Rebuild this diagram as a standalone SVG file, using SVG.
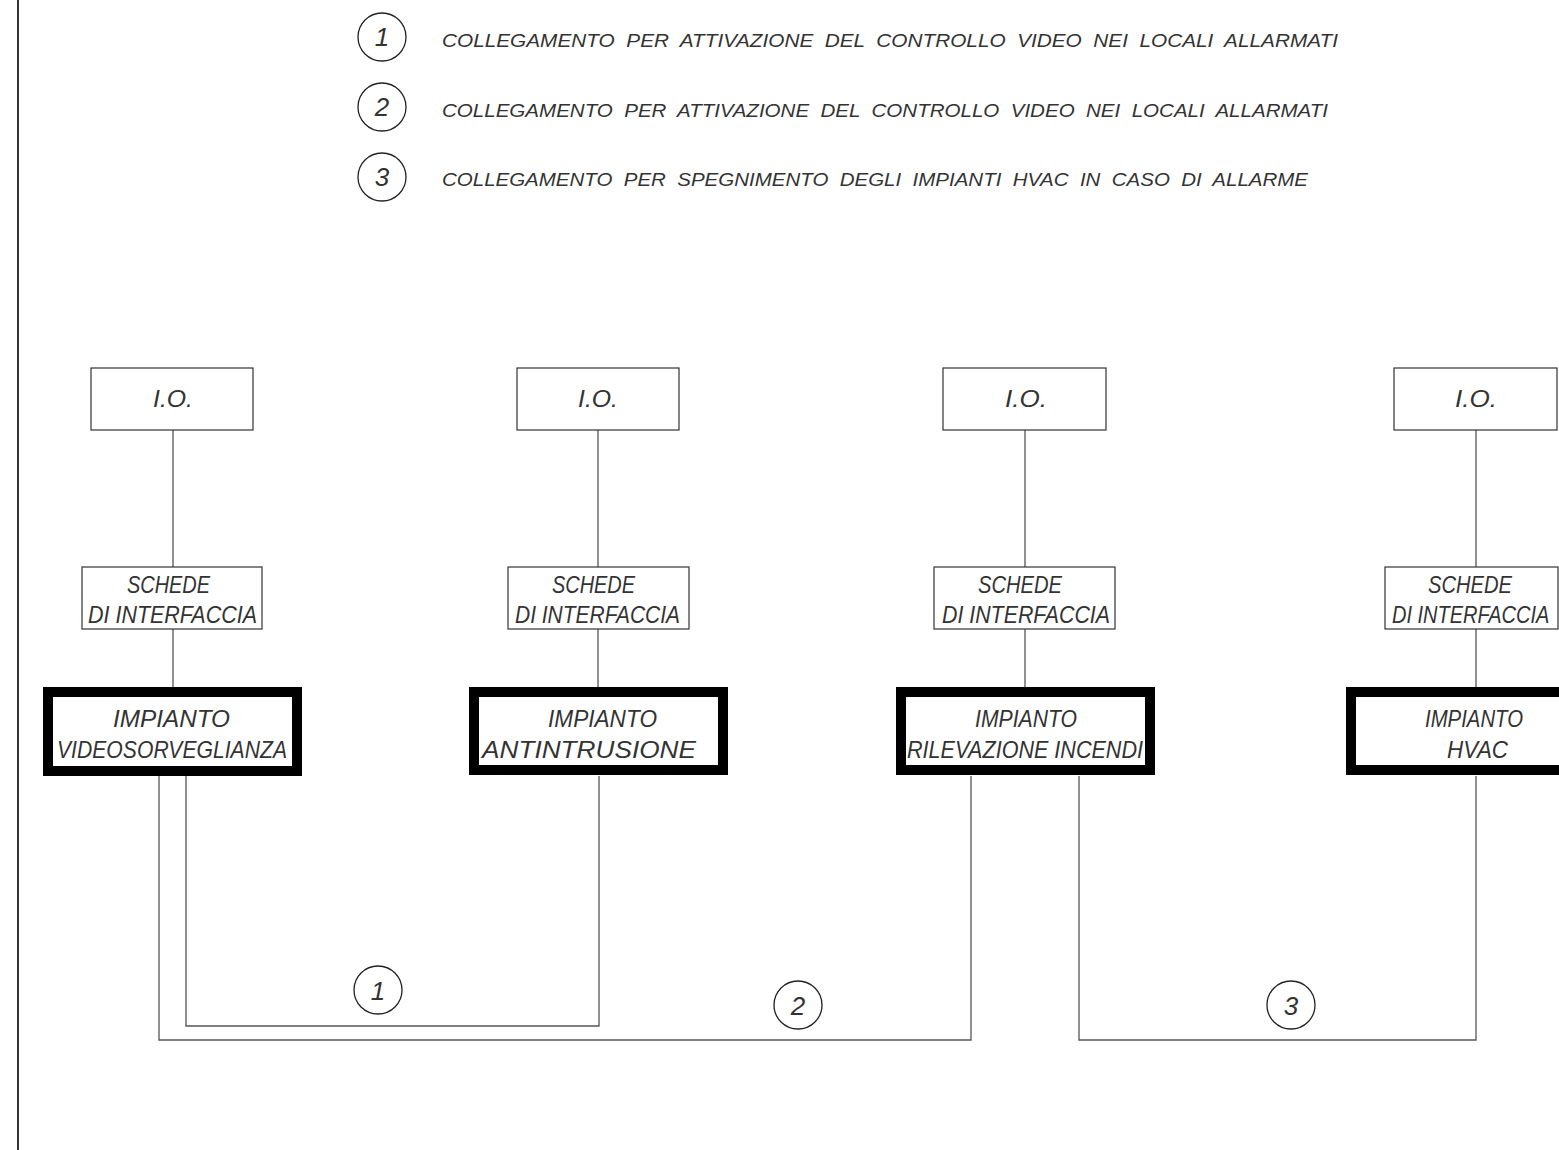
<svg xmlns="http://www.w3.org/2000/svg" width="1559" height="1150" viewBox="0 0 1559 1150">
<style>
.t{font-family:"Liberation Sans",Arial,sans-serif;font-style:italic;fill:#333;}
.lg{font-size:19px;white-space:pre;}
.bx{font-size:24px;}
.num{font-size:26px;text-anchor:middle;}
.thin{fill:#fff;stroke:#333;stroke-width:1.2;}
.thick{fill:#fff;stroke:#000;stroke-width:10;}
.wire{fill:none;stroke:#555;stroke-width:1.3;}
.circ{fill:#fff;stroke:#222;stroke-width:1.3;}
</style>
<rect width="1559" height="1150" fill="#fff"/>
<line x1="18" y1="0" x2="18" y2="1150" stroke="#000" stroke-width="1.6"/>

<g id="legend">
<circle class="circ" cx="382" cy="37" r="24"/>
<text class="t num" x="382" y="46">1</text>
<text class="t lg" x="442" y="47" textLength="896" lengthAdjust="spacingAndGlyphs" xml:space="preserve">COLLEGAMENTO  PER  ATTIVAZIONE  DEL  CONTROLLO  VIDEO  NEI  LOCALI  ALLARMATI</text>
<circle class="circ" cx="382" cy="107" r="24"/>
<text class="t num" x="382" y="116">2</text>
<text class="t lg" x="442" y="117" textLength="886" lengthAdjust="spacingAndGlyphs" xml:space="preserve">COLLEGAMENTO  PER  ATTIVAZIONE  DEL  CONTROLLO  VIDEO  NEI  LOCALI  ALLARMATI</text>
<circle class="circ" cx="382" cy="177" r="24"/>
<text class="t num" x="382" y="186">3</text>
<text class="t lg" x="442" y="186" textLength="866" lengthAdjust="spacingAndGlyphs" xml:space="preserve">COLLEGAMENTO  PER  SPEGNIMENTO  DEGLI  IMPIANTI  HVAC  IN  CASO  DI  ALLARME</text>
</g>

<g id="connectors">
<line class="wire" x1="173" y1="430" x2="173" y2="567"/>
<line class="wire" x1="173" y1="629" x2="173" y2="687"/>
<line class="wire" x1="598" y1="430" x2="598" y2="567"/>
<line class="wire" x1="598" y1="629" x2="598" y2="687"/>
<line class="wire" x1="1025" y1="430" x2="1025" y2="567"/>
<line class="wire" x1="1025" y1="629" x2="1025" y2="687"/>
<line class="wire" x1="1476" y1="430" x2="1476" y2="567"/>
<line class="wire" x1="1476" y1="629" x2="1476" y2="687"/>
<polyline class="wire" points="186,776 186,1026 599,1026 599,776"/>
<polyline class="wire" points="159,776 159,1040 971,1040 971,776"/>
<polyline class="wire" points="1079,776 1079,1040 1476,1040 1476,776"/>
<g id="link1"><circle class="circ" cx="378" cy="990" r="24"/><text class="t num" x="378" y="1000">1</text></g>
<g id="link2"><circle class="circ" cx="798" cy="1005" r="24"/><text class="t num" x="798" y="1015">2</text></g>
<g id="link3"><circle class="circ" cx="1291" cy="1005" r="24"/><text class="t num" x="1291" y="1015">3</text></g>
</g>

<g id="io1"><rect class="thin" x="91" y="368" width="162" height="62"/><text class="t bx" x="153" y="407" textLength="40" lengthAdjust="spacingAndGlyphs">I.O.</text></g>
<g id="io2"><rect class="thin" x="517" y="368" width="162" height="62"/><text class="t bx" x="578" y="407" textLength="40" lengthAdjust="spacingAndGlyphs">I.O.</text></g>
<g id="io3"><rect class="thin" x="943" y="368" width="163" height="62"/><text class="t bx" x="1005" y="407" textLength="42" lengthAdjust="spacingAndGlyphs">I.O.</text></g>
<g id="io4"><rect class="thin" x="1394" y="368" width="163" height="62"/><text class="t bx" x="1455" y="407" textLength="42" lengthAdjust="spacingAndGlyphs">I.O.</text></g>

<g id="schede1"><rect class="thin" x="82" y="567" width="180" height="62"/>
<text class="t bx" x="127" y="593" textLength="83" lengthAdjust="spacingAndGlyphs">SCHEDE</text>
<text class="t bx" x="88" y="623" textLength="169" lengthAdjust="spacingAndGlyphs">DI INTERFACCIA</text></g>
<g id="schede2"><rect class="thin" x="508" y="567" width="181" height="62"/>
<text class="t bx" x="552" y="593" textLength="83" lengthAdjust="spacingAndGlyphs">SCHEDE</text>
<text class="t bx" x="515" y="623" textLength="165" lengthAdjust="spacingAndGlyphs">DI INTERFACCIA</text></g>
<g id="schede3"><rect class="thin" x="934" y="567" width="181" height="62"/>
<text class="t bx" x="978" y="593" textLength="84" lengthAdjust="spacingAndGlyphs">SCHEDE</text>
<text class="t bx" x="942" y="623" textLength="168" lengthAdjust="spacingAndGlyphs">DI INTERFACCIA</text></g>
<g id="schede4"><rect class="thin" x="1385" y="567" width="173" height="62"/>
<text class="t" style="font-size:20px" transform="translate(1392,623) scale(1,1.2)" x="0" y="0">DI INTERFACCIA</text>
<text class="t bx" x="1428" y="593" textLength="84" lengthAdjust="spacingAndGlyphs">SCHEDE</text></g>

<g id="impianto1"><rect class="thick" x="48" y="692" width="249" height="79"/>
<text class="t bx" x="113" y="727" textLength="117" lengthAdjust="spacingAndGlyphs">IMPIANTO</text>
<text class="t bx" x="57" y="758" textLength="230" lengthAdjust="spacingAndGlyphs">VIDEOSORVEGLIANZA</text></g>
<g id="impianto2"><rect class="thick" x="474" y="692" width="249" height="78"/>
<text class="t bx" x="548" y="727" textLength="109" lengthAdjust="spacingAndGlyphs">IMPIANTO</text>
<text class="t bx" x="482" y="758" textLength="214" lengthAdjust="spacingAndGlyphs">ANTINTRUSIONE</text></g>
<g id="impianto3"><rect class="thick" x="901" y="692" width="249" height="78"/>
<text class="t bx" x="975" y="727" textLength="102" lengthAdjust="spacingAndGlyphs">IMPIANTO</text>
<text class="t bx" x="907" y="758" textLength="236" lengthAdjust="spacingAndGlyphs">RILEVAZIONE INCENDI</text></g>
<g id="impianto4"><rect class="thick" x="1351" y="692" width="250" height="78"/>
<text class="t bx" x="1425" y="727" textLength="98" lengthAdjust="spacingAndGlyphs">IMPIANTO</text>
<text class="t bx" x="1447" y="758" textLength="61" lengthAdjust="spacingAndGlyphs">HVAC</text></g>
</svg>
